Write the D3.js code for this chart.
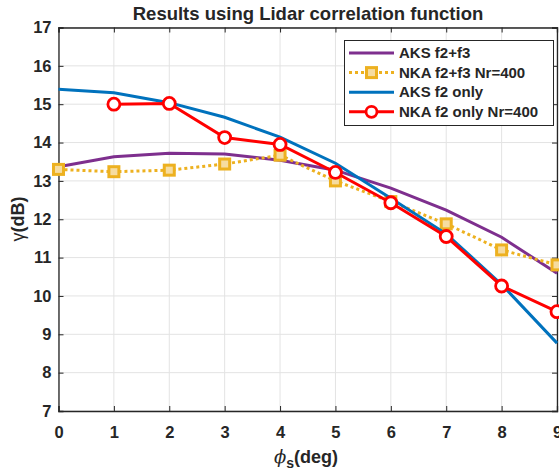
<!DOCTYPE html>
<html>
<head>
<meta charset="utf-8">
<script src="https://cdn.jsdelivr.net/npm/d3@7"></script>
<style>
  body { margin: 0; background: #fff; }
  svg text { font-family: "Liberation Sans", Arial, sans-serif; font-weight: bold; fill: #262626; }
</style>
</head>
<body>
<svg id="chart" width="559" height="472"></svg>
<script>
// data
var phi = [0, 1, 2, 3, 4, 5, 6, 7, 8, 9];
var aksF2F3 = [13.37, 13.63, 13.72, 13.70, 13.54, 13.28, 12.81, 12.24, 11.53, 10.59];
var nkaF2F3 = [13.30, 13.24, 13.28, 13.44, 13.67, 13.00, 12.46, 11.88, 11.20, 10.81];
var aksF2 = [15.39, 15.30, 15.04, 14.66, 14.14, 13.46, 12.55, 11.62, 10.30, 8.77];
var nkaF2 = [null, 15.00, 15.02, 14.13, 13.95, 13.22, 12.43, 11.55, 10.26, 9.59];
var xTicks = [0, 1, 2, 3, 4, 5, 6, 7, 8, 9];
var yTicks = [7, 8, 9, 10, 11, 12, 13, 14, 15, 16, 17];

var series = [
  { name: "AKS f2+f3", values: aksF2F3, color: "#7E2F8E", dash: null, marker: null },
  { name: "NKA f2+f3 Nr=400", values: nkaF2F3, color: "#EDB120", dash: "3,3", marker: "square" },
  { name: "AKS f2 only", values: aksF2, color: "#0072BD", dash: null, marker: null },
  { name: "NKA f2 only Nr=400", values: nkaF2, color: "#FF0000", dash: null, marker: "circle" }
];

var svg = d3.select("#chart");
// note: "top" is window.top, so use other names
var pLeft = 58.5, pRight = 557, pTop = 27.5, pBottom = 411;

var x = d3.scaleLinear().domain([0, 9]).range([pLeft, pRight]);
var y = d3.scaleLinear().domain([7, 17]).range([pBottom, pTop]);

// grid
var grid = svg.append("g");
grid.selectAll(".gx").data(xTicks).enter().append("line")
  .attr("x1", d => x(d)).attr("x2", d => x(d))
  .attr("y1", pTop).attr("y2", pBottom)
  .attr("stroke", "#e3e3e3").attr("stroke-width", 1);
grid.selectAll(".gy").data(yTicks).enter().append("line")
  .attr("y1", d => y(d)).attr("y2", d => y(d))
  .attr("x1", pLeft).attr("x2", pRight)
  .attr("stroke", "#e3e3e3").attr("stroke-width", 1);

// axes with inward ticks
var xAxis = svg.append("g").attr("transform", "translate(0," + pBottom + ")")
  .call(d3.axisBottom(x).tickValues(xTicks).tickSize(-5).tickPadding(15).tickFormat(d3.format("d")));
var xTop = svg.append("g").attr("transform", "translate(0," + pTop + ")")
  .call(d3.axisTop(x).tickValues(xTicks).tickSize(-5).tickFormat(""));
var yAxis = svg.append("g").attr("transform", "translate(" + pLeft + ",0)")
  .call(d3.axisLeft(y).tickValues(yTicks).tickSize(-5).tickPadding(7).tickFormat(d3.format("d")));
var yRight = svg.append("g").attr("transform", "translate(" + pRight + ",0)")
  .call(d3.axisRight(y).tickValues(yTicks).tickSize(-5).tickFormat(""));

[xAxis, xTop, yAxis, yRight].forEach(function(a) {
  a.attr("font-family", null).attr("font-size", null);
  a.select(".domain").attr("stroke", "#262626").attr("stroke-width", 1.3);
  a.selectAll(".tick line").attr("stroke", "#262626").attr("stroke-width", 1);
  a.selectAll("text").style("font-size", "16.5px").attr("fill", "#262626");
});

// lines
var line = d3.line()
  .defined(d => d.v != null)
  .x(d => x(d.x)).y(d => y(d.v));

series.forEach(function(s) {
  var pts = phi.map((p, i) => ({ x: p, v: s.values[i] }));
  svg.append("path").datum(pts)
    .attr("d", line)
    .attr("fill", "none")
    .attr("stroke", s.color)
    .attr("stroke-width", 3)
    .attr("stroke-dasharray", s.dash);
  var valid = pts.filter(d => d.v != null);
  if (s.marker == "square") {
    svg.selectAll(null).data(valid).enter().append("rect")
      .attr("x", d => x(d.x) - 5).attr("y", d => y(d.v) - 5)
      .attr("width", 10).attr("height", 10)
      .attr("fill", "#f6dca0").attr("stroke", s.color).attr("stroke-width", 3);
  } else if (s.marker == "circle") {
    svg.selectAll(null).data(valid).enter().append("circle")
      .attr("cx", d => x(d.x)).attr("cy", d => y(d.v)).attr("r", 6)
      .attr("fill", "#fff").attr("stroke", s.color).attr("stroke-width", 2.8);
  }
});

// title and labels
svg.append("text").attr("x", 308).attr("y", 20).attr("text-anchor", "middle")
  .style("font-size", "18.5px").text("Results using Lidar correlation function");

var xl = svg.append("text").attr("x", 306).attr("y", 463).attr("text-anchor", "middle")
  .style("font-size", "18px");
xl.append("tspan").style("font-family", "'DejaVu Serif', serif").style("font-style", "italic")
  .style("font-weight", "normal").text("\u03d5");
xl.append("tspan").attr("dy", 5).style("font-size", "14px").text("s");
xl.append("tspan").attr("dy", -5).text("(deg)");

svg.append("text").attr("transform", "translate(24,219) rotate(-90)").attr("text-anchor", "middle")
  .style("font-size", "18px")
  .html("<tspan style='font-weight:normal'>\u03b3</tspan>(dB)");

// legend
var lg = svg.append("g");
lg.append("rect").attr("x", 344.5).attr("y", 40.5).attr("width", 209).attr("height", 85)
  .attr("fill", "#fff").attr("stroke", "#262626").attr("stroke-width", 1);
series.forEach(function(s, i) {
  var ly = 53 + i * 19.6;
  lg.append("line").attr("x1", 349).attr("x2", 394).attr("y1", ly).attr("y2", ly)
    .attr("stroke", s.color).attr("stroke-width", 3).attr("stroke-dasharray", s.dash);
  if (s.marker == "square") {
    lg.append("rect").attr("x", 366.5).attr("y", ly - 5).attr("width", 10).attr("height", 10)
      .attr("fill", "#f6dca0").attr("stroke", s.color).attr("stroke-width", 3);
  } else if (s.marker == "circle") {
    lg.append("circle").attr("cx", 371.5).attr("cy", ly).attr("r", 5.5)
      .attr("fill", "#fff").attr("stroke", s.color).attr("stroke-width", 2.8);
  }
  lg.append("text").attr("x", 399).attr("y", ly + 5).style("font-size", "15px").text(s.name);
});
</script>
</body>
</html>
